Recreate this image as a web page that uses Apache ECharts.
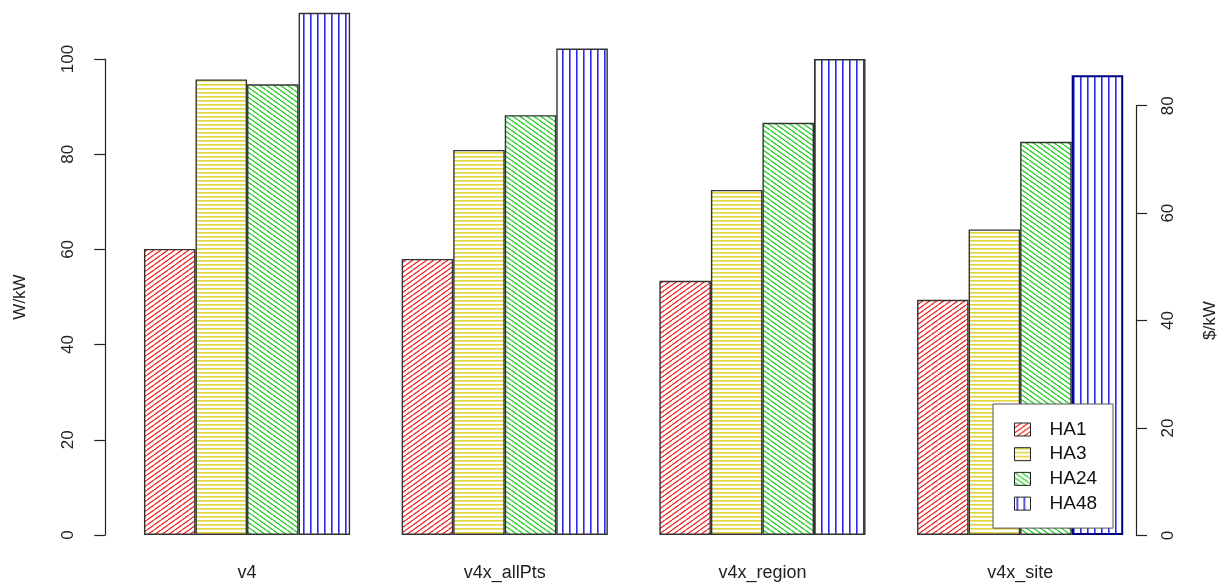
<!DOCTYPE html>
<html>
<head>
<meta charset="utf-8">
<script src="https://cdn.jsdelivr.net/npm/echarts@6/dist/echarts.min.js"></script>
<style>
  html, body { margin: 0; padding: 0; background: #ffffff; }
  #chart { width: 1227px; height: 587px; }
</style>
</head>
<body>
<div id="chart"></div>
<script>
// Model variants on the x axis
var categories = ['v4', 'v4x_allPts', 'v4x_region', 'v4x_site'];
// Series names
var seriesNames = ['HA1', 'HA3', 'HA24', 'HA48'];
// W/kW values per series, one per model variant
var ha1 = [60.1, 58.0, 53.4, 49.4];
var ha3 = [95.7, 80.9, 72.5, 64.2];
var ha24 = [94.7, 88.2, 86.6, 82.6];
var ha48 = [109.7, 102.2, 100.0, 96.6];
// Left and right axis tick values
var leftTicks = [0, 20, 40, 60, 80, 100];
var rightTicks = [0, 20, 40, 60, 80];

// Hatch fills drawn on small tiles and repeated as canvas patterns
function makeTile(w, h, draw) {
  var c = document.createElement('canvas');
  c.width = w; c.height = h;
  var ctx = c.getContext('2d');
  ctx.fillStyle = '#ffffff';
  ctx.fillRect(0, 0, w, h);
  draw(ctx, w, h);
  return { image: c, repeat: 'repeat' };
}
function diagonal(color, up, width) {
  return makeTile(7, 5, function (ctx, w, h) {
    ctx.strokeStyle = color;
    ctx.lineWidth = width;
    for (var k = -1; k <= 1; k++) {
      ctx.beginPath();
      if (up) { ctx.moveTo(k * w, h); ctx.lineTo(k * w + w, 0); }
      else { ctx.moveTo(k * w, 0); ctx.lineTo(k * w + w, h); }
      ctx.stroke();
    }
  });
}
var fillHA1 = diagonal('#f01818', true, 1.2);
var fillHA3 = makeTile(4, 4, function (ctx, w) {
  ctx.fillStyle = '#e0d63a';
  ctx.fillRect(0, 0, w, 1.6);
});
var fillHA24 = diagonal('#18c818', false, 1.2);
var fillHA48 = makeTile(7, 7, function (ctx, w, h) {
  ctx.fillStyle = '#2c2ce8';
  ctx.fillRect(2, 0, 1.6, h);
});

var fills = [fillHA1, fillHA3, fillHA24, fillHA48];
var values = [ha1, ha3, ha24, ha48];

var series = seriesNames.map(function (name, i) {
  return {
    name: name,
    type: 'bar',
    xAxisIndex: 0,
    yAxisIndex: 0,
    clip: false,
    barGap: '0%',
    barCategoryGap: '20%',
    itemStyle: { color: fills[i], borderColor: '#333333', borderWidth: 1.4 },
    emphasis: { disabled: true },
    data: values[i].map(function (v, j) {
      if (i === 3 && j === 3) {
        return { value: v, itemStyle: { borderColor: '#000080', borderWidth: 2 } };
      }
      return v;
    })
  };
});

var labelFont = { fontFamily: 'Liberation Sans, Arial, sans-serif', color: '#222222' };

var chart = echarts.init(document.getElementById('chart'), null, { renderer: 'canvas' });
chart.setOption({
  backgroundColor: '#ffffff',
  animation: false,
  grid: [
    { left: 118.2, right: 78, top: 59, bottom: 52 },
    { left: 118.2, right: 85.3, top: 105.7, bottom: 51.5 }
  ],
  legend: {
    data: seriesNames,
    orient: 'vertical',
    left: 993,
    top: 404,
    padding: [16, 16, 15, 21],
    itemWidth: 16,
    itemHeight: 13,
    itemGap: 5.7,
    icon: 'rect',
    backgroundColor: '#ffffff',
    borderColor: '#555555',
    borderWidth: 1,
    itemStyle: { borderColor: '#222222', borderWidth: 1 },
    textStyle: { fontFamily: 'Liberation Sans, Arial, sans-serif', fontSize: 19, lineHeight: 19, color: '#111111', padding: [0, 0, 0, 14] },
    selectedMode: false
  },
  xAxis: [
    {
      type: 'category',
      gridIndex: 0,
      data: categories,
      axisLine: { show: false },
      axisTick: { show: false },
      axisLabel: Object.assign({ fontSize: 18, margin: 29 }, labelFont)
    },
    { type: 'category', gridIndex: 1, data: categories, show: false }
  ],
  yAxis: [
    {
      type: 'value',
      gridIndex: 0,
      min: leftTicks[0],
      max: leftTicks[leftTicks.length - 1],
      interval: leftTicks[1] - leftTicks[0],
      offset: 13,
      name: 'W/kW',
      nameLocation: 'middle',
      nameRotate: 90,
      nameGap: 76,
      nameTextStyle: Object.assign({ fontSize: 17 }, labelFont),
      axisLine: { show: true, lineStyle: { color: '#222222', width: 1.2 } },
      axisTick: { show: true, length: 11, lineStyle: { color: '#222222', width: 1.2 } },
      axisLabel: Object.assign({ fontSize: 17, rotate: 90, margin: 28 }, labelFont),
      splitLine: { show: false }
    },
    {
      type: 'value',
      gridIndex: 1,
      position: 'right',
      min: rightTicks[0],
      max: rightTicks[rightTicks.length - 1],
      interval: rightTicks[1] - rightTicks[0],
      name: '$/kW',
      nameLocation: 'middle',
      nameRotate: 90,
      nameGap: 66,
      nameTextStyle: Object.assign({ fontSize: 17 }, labelFont),
      axisLine: { show: true, lineStyle: { color: '#222222', width: 1.2 } },
      axisTick: { show: true, length: 11, lineStyle: { color: '#222222', width: 1.2 } },
      axisLabel: Object.assign({ fontSize: 17, rotate: 90, margin: 24 }, labelFont),
      splitLine: { show: false }
    }
  ],
  series: series.concat([{
    type: 'bar',
    xAxisIndex: 1,
    yAxisIndex: 1,
    data: [],
    silent: true
  }])
});
</script>
</body>
</html>
